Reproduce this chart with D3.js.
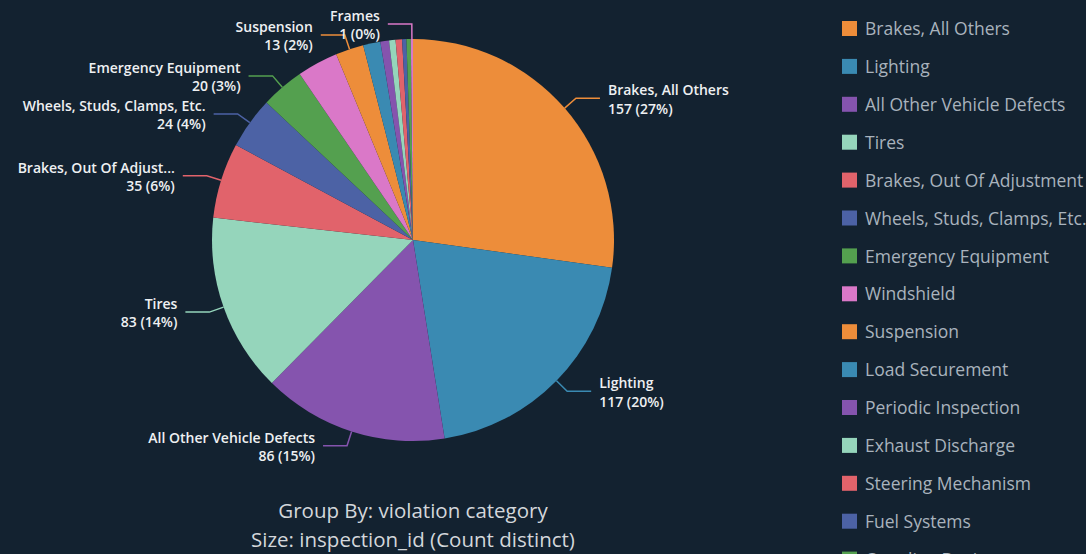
<!DOCTYPE html>
<html lang="en">
<head>
<meta charset="utf-8">
<title>Violations by category</title>
<script src="https://d3js.org/d3.v7.min.js"></script>
<style>
  body { margin: 0; background: #132230; }
  svg { display: block; }
  .label { font-family: "Open Sans", sans-serif; font-size: 14px; font-weight: 600; fill: #eef0f2; }
  .legend text { font-family: "Open Sans", sans-serif; font-size: 17.5px; fill: #a9b3bd; }
  .caption { font-family: "Open Sans", sans-serif; font-size: 20.5px; fill: #d3d7db; }
</style>
</head>
<body>
<script>
// data
var categories = ["Brakes, All Others", "Lighting", "All Other Vehicle Defects", "Tires",
  "Brakes, Out Of Adjustment", "Wheels, Studs, Clamps, Etc.", "Emergency Equipment", "Windshield",
  "Suspension", "Load Securement", "Periodic Inspection", "Exhaust Discharge",
  "Steering Mechanism", "Fuel Systems", "Coupling Devices", "Frames"];
var counts = [157, 117, 86, 83, 35, 24, 20, 19, 13, 8, 4, 3, 3, 2, 2, 1];
var palette = ["#ed8d3a", "#3a8ab2", "#8554ae", "#95d5bb", "#e1636b", "#4c62a5", "#54a04f", "#da78c8"];
// slices that carry an outside label
var labeled = ["Brakes, All Others", "Lighting", "All Other Vehicle Defects", "Tires",
  "Brakes, Out Of Adjustment", "Wheels, Studs, Clamps, Etc.", "Emergency Equipment",
  "Suspension", "Frames"];
var captionLines = ["Group By: violation category", "Size: inspection_id (Count distinct)"];

var width = 1086, height = 554;
var cx = 413, cy = 240, radius = 201;

var data = categories.map(function(c, i) { return { name: c, value: counts[i] }; });
var total = d3.sum(counts);

var color = d3.scaleOrdinal().domain(categories).range(palette);

var svg = d3.select("body").append("svg")
  .attr("width", width)
  .attr("height", height);

var g = svg.append("g").attr("transform", "translate(" + cx + "," + cy + ")");

var pie = d3.pie().sort(null).value(function(d) { return d.value; });
var arc = d3.arc().innerRadius(0).outerRadius(radius);
var edgeArc = d3.arc().innerRadius(radius).outerRadius(radius);
var outArc = d3.arc().innerRadius(radius + 15).outerRadius(radius + 15);

var arcs = pie(data);

g.selectAll("path.slice")
  .data(arcs)
  .enter().append("path")
  .attr("class", "slice")
  .attr("d", arc)
  .attr("fill", function(d) { return color(d.data.name); });

// outside labels with elbow leader lines
var lab = g.selectAll("g.lab")
  .data(arcs.filter(function(d) { return labeled.indexOf(d.data.name) >= 0; }))
  .enter().append("g").attr("class", "lab");

lab.each(function(d) {
  var sel = d3.select(this);
  var p1 = edgeArc.centroid(d);
  var p2 = outArc.centroid(d);
  var right = p2[0] > 0.5;
  var dir = right ? 1 : -1;
  var p3 = [p2[0] + dir * 24, p2[1]];
  sel.append("polyline")
    .attr("points", [p1, p2, p3].map(function(p) { return p.join(","); }).join(" "))
    .attr("fill", "none")
    .attr("stroke", color(d.data.name))
    .attr("stroke-width", 1.5);

  var tx = p3[0] + dir * 8;
  var t = sel.append("text")
    .attr("class", "label")
    .attr("text-anchor", right ? "start" : "end")
    .attr("x", tx)
    .attr("y", p2[1]);
  var nameSpan = t.append("tspan").attr("x", tx).attr("dy", "-0.2em").text(d.data.name);
  t.append("tspan").attr("x", tx).attr("dy", "1.3em")
    .text(d.data.value + " (" + Math.round(d.data.value / total * 100) + "%)");

  // shorten names that would run off the left edge
  if (!right) {
    var name = d.data.name;
    var room = cx + tx - 10;
    var node = nameSpan.node();
    while (node.getComputedTextLength() > room && name.length > 4) {
      name = name.slice(0, -1);
      nameSpan.text(name.replace(/\s+$/, "") + "...");
    }
  }
});

// legend
var legend = svg.append("g").attr("class", "legend")
  .attr("transform", "translate(842,21)");

var item = legend.selectAll("g")
  .data(categories)
  .enter().append("g")
  .attr("transform", function(d, i) { return "translate(0," + (i * 37.9) + ")"; });

item.append("rect")
  .attr("width", 15)
  .attr("height", 15)
  .attr("fill", function(d) { return color(d); });

item.append("text")
  .attr("x", 23)
  .attr("y", 8)
  .attr("dy", "0.35em")
  .text(function(d) { return d; });

// caption under the pie
svg.append("g").selectAll("text")
  .data(captionLines)
  .enter().append("text")
  .attr("class", "caption")
  .attr("text-anchor", "middle")
  .attr("x", cx)
  .attr("y", function(d, i) { return 518 + i * 29; })
  .text(function(d) { return d; });
</script>
</body>
</html>
